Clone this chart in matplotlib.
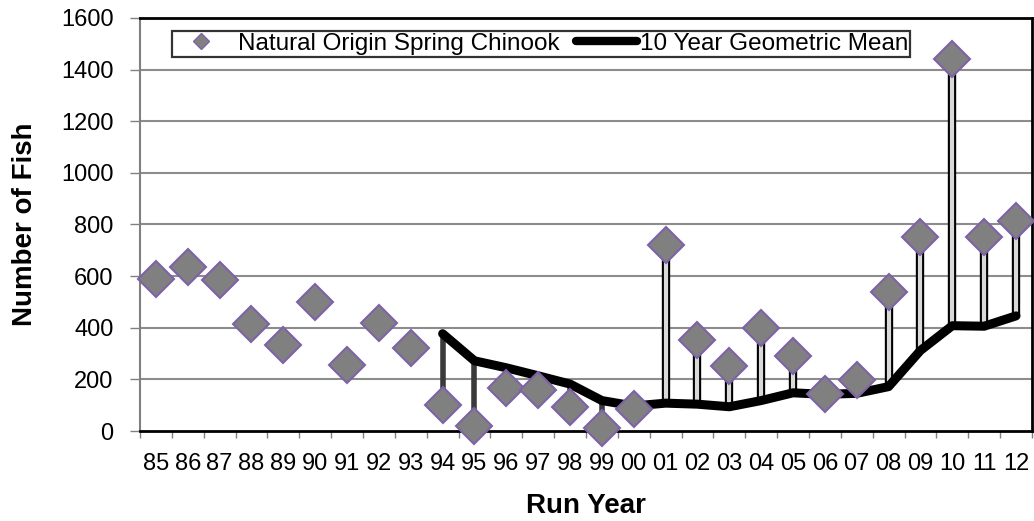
import numpy as np
import matplotlib
matplotlib.use('Agg')
import matplotlib.pyplot as plt
from matplotlib.lines import Line2D
from matplotlib.legend_handler import HandlerLine2D

plt.rcParams['font.family'] = ['Liberation Sans', 'DejaVu Sans']

# run years and counts
years = ['85', '86', '87', '88', '89', '90', '91', '92', '93', '94', '95', '96', '97', '98',
         '99', '00', '01', '02', '03', '04', '05', '06', '07', '08', '09', '10', '11', '12']
fish = [590, 635, 585, 415, 335, 500, 255, 420, 320, 100, 20, 168, 160, 92,
        10, 85, 720, 352, 252, 400, 290, 145, 198, 538, 752, 1440, 752, 815]
# 10 year geometric mean starts at 94
geo_years = years[9:]
geo_mean = [377, 272, 245, 214, 182, 118, 97, 108, 104, 94, 118, 148, 142, 146,
            172, 312, 408, 406, 446]

x = np.arange(len(years))
gx = x[9:]
fish_g = np.array(fish[9:])
gm = np.array(geo_mean)

fig = plt.figure(figsize=(10.34, 5.21), dpi=100)
ax = fig.add_axes([0.1354, 0.1727, 0.8626, 0.7928])

# grid
for v in range(200, 1601, 200):
    ax.axhline(v, color='#8c8c8c', lw=1.5, zorder=0)

# up / down bars between value and mean
up = fish_g > gm
ax.vlines(gx[up], gm[up], fish_g[up], color='black', lw=6, zorder=2)
ax.vlines(gx[up], gm[up] + 4, fish_g[up], color='#d9d9d9', lw=3, zorder=2)
ax.vlines(gx[~up], fish_g[~up], gm[~up], color='#3a3a3a', lw=4, zorder=2)

ax.plot(gx, gm, color='black', lw=6.5, solid_capstyle='round', solid_joinstyle='round',
        zorder=3, label='10 Year Geometric Mean')
ax.plot(x, fish, ls='none', marker='D', ms=18.5, mfc='#808080', mec='#7e62a6', mew=1.5,
        zorder=4, clip_on=False, label='Natural Origin Spring Chinook')

ax.set_xlim(-0.5, len(years) - 0.5)
ax.set_ylim(0, 1600)
ax.set_yticks(range(0, 1601, 200))
ax.set_xticks(x)
ax.set_xticklabels(years)
ax.set_xticks(np.arange(-0.5, len(years), 1), minor=True)
ax.tick_params(axis='x', which='major', length=0, labelsize=17, pad=16)
ax.tick_params(axis='x', which='minor', length=5, width=1, color='#808080')
ax.tick_params(axis='y', length=7, width=1, color='#808080', labelsize=17, pad=12)

for s in ['top', 'right', 'bottom']:
    ax.spines[s].set_linewidth(2)
    ax.spines[s].set_color('black')
ax.spines['left'].set_color('#808080')
ax.spines['left'].set_linewidth(1.5)

ax.set_ylabel('Number of Fish', fontsize=20, fontweight='bold')
ax.set_xlabel('Run Year', fontsize=20, fontweight='bold')
ax.yaxis.set_label_coords(-0.114, 0.5)
ax.xaxis.set_label_coords(0.5, -0.150)

# legend
h, l = ax.get_legend_handles_labels()
h0 = Line2D([], [], ls='none', marker='D', ms=8, mfc='#808080', mec='#7e62a6')
h1 = Line2D([], [], color='black', lw=6, solid_capstyle='round')
leg = ax.legend([h0, h1], [l[1], l[0]], ncol=2, loc='upper left',
                bbox_to_anchor=(0.0359, 0.9685), fontsize=17.5, frameon=True, fancybox=False,
                edgecolor='black', borderpad=0.08, borderaxespad=0, handlelength=2.5,
                columnspacing=0.7, handletextpad=0.12,
                handler_map={h0: HandlerLine2D(xpad=-0.3)})
leg.get_frame().set_linewidth(1.6)

fig.savefig('out.png', dpi=100)
